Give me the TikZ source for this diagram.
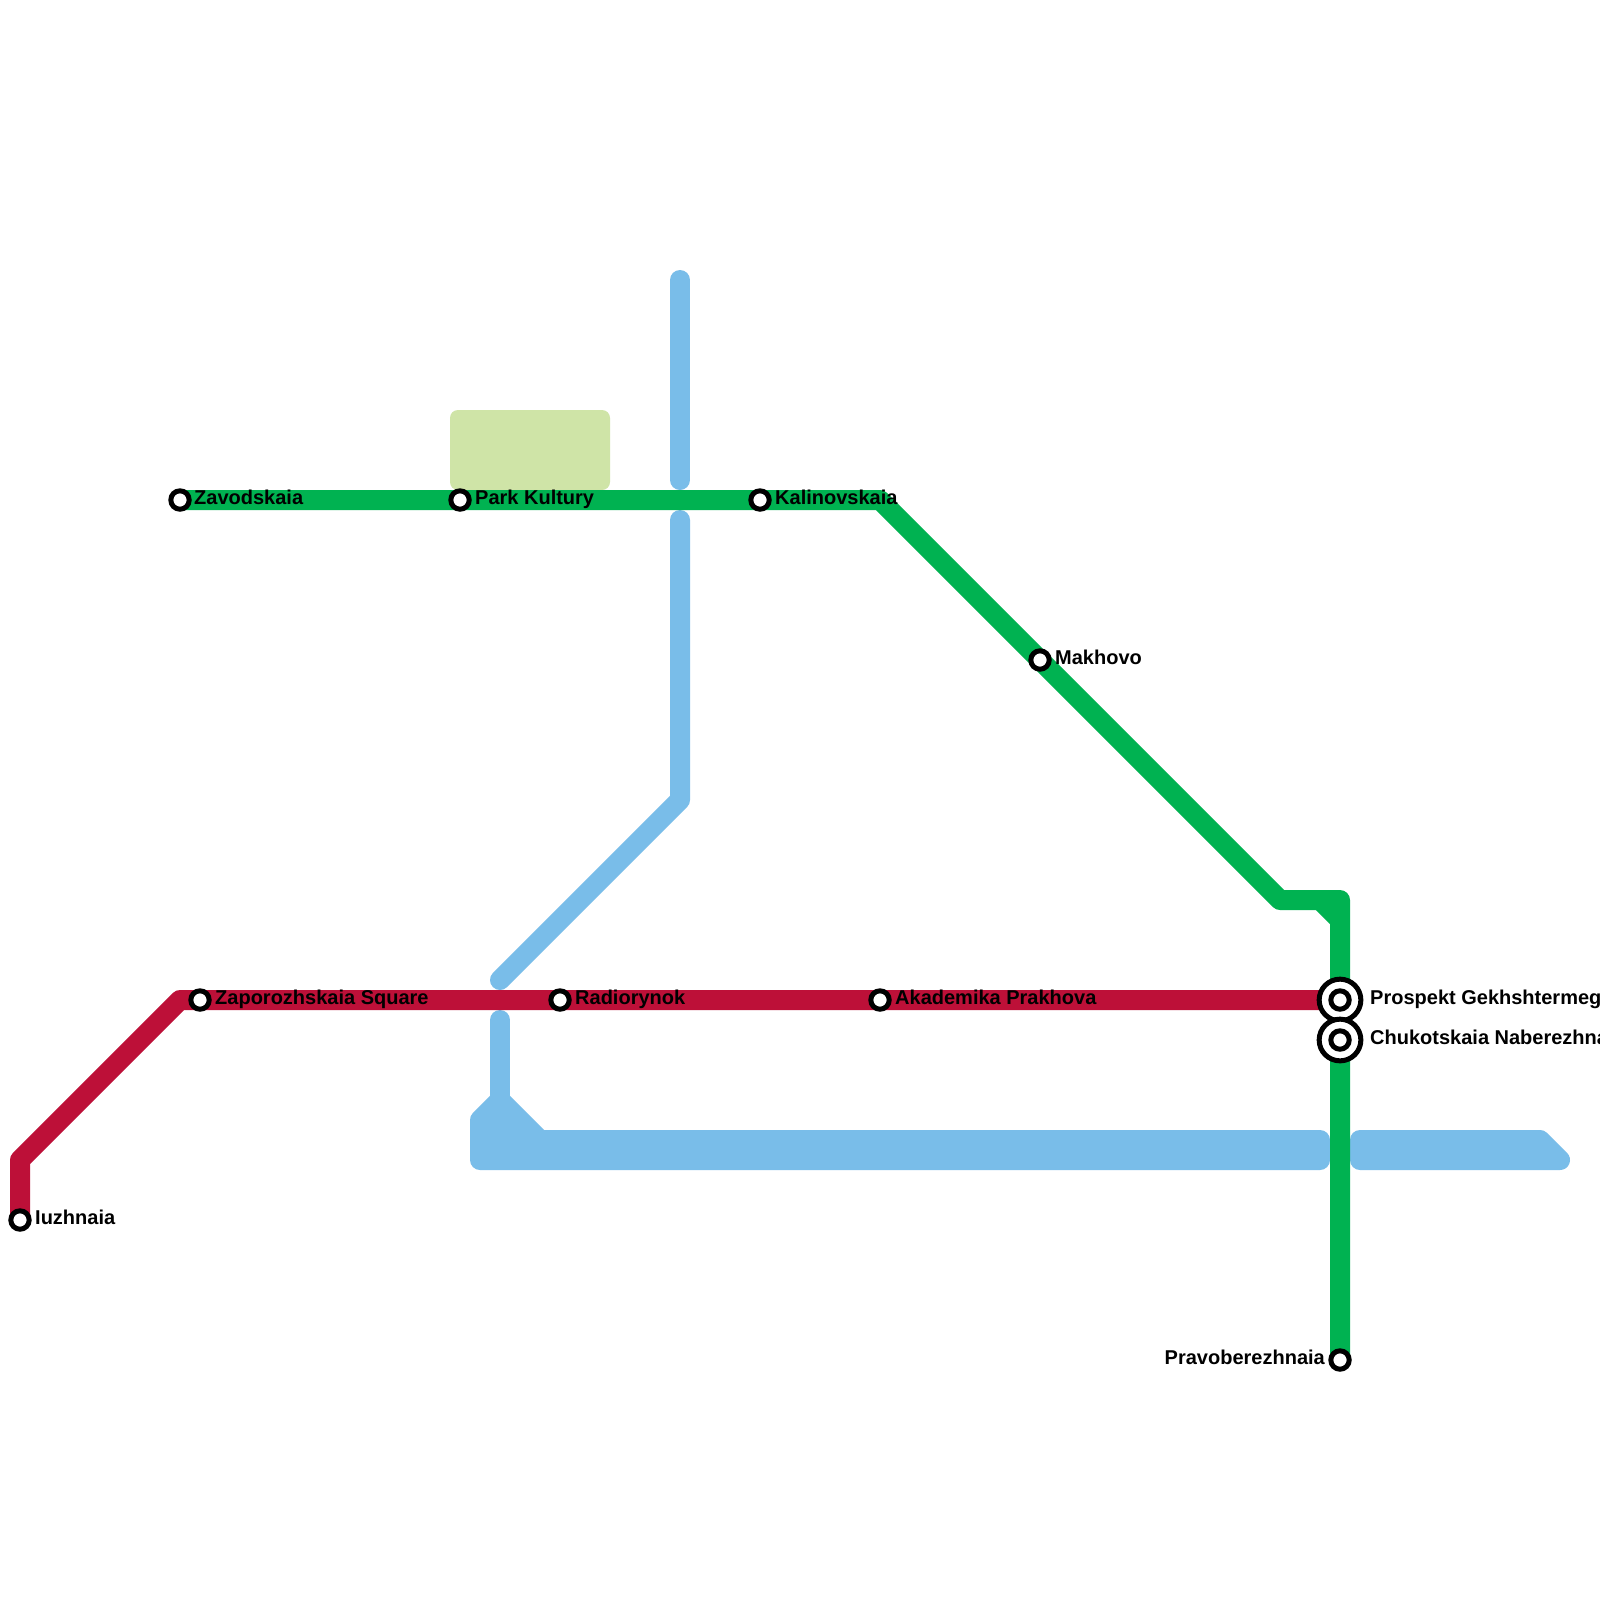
\documentclass[tikz,border=0pt]{standalone}
\usepackage{fontspec}
\setmainfont{Liberation Sans}
\definecolor{lgreen}{HTML}{00B251}
\definecolor{lred}{HTML}{BD1038}
\definecolor{lblue}{HTML}{79BDE9}
\definecolor{park}{HTML}{CFE4A7}
\tikzset{
 metro/.style={line width=20pt,line cap=round,line join=round},
 greenline/.style={metro,draw=lgreen},
 redline/.style={metro,draw=lred},
 blueline/.style={metro,draw=lblue},
 stn/.style={circle,draw=black,fill=white,line width=5pt,minimum size=18.4pt,inner sep=0pt,outer sep=0pt},
 bigstn/.style={circle,draw=black,fill=white,line width=5pt,minimum size=41.7pt,inner sep=0pt,outer sep=0pt},
 lab/.style={font=\bfseries\fontsize{20}{22}\selectfont,inner sep=0pt,text=black},
}
\begin{document}
\begin{tikzpicture}[x=1pt,y=-1pt]
\useasboundingbox (0,0) rectangle (1600,1600);
\clip (0,0) rectangle (1600,1600);
\fill[white] (0,0) rectangle (1600,1600);
\node[fill=park,rounded corners=8pt,minimum width=160pt,minimum height=80pt,inner sep=0pt] (parkarea) at (530,450) {};
% coordinates
\foreach \n/\x/\y in {ba/680/280,bb/680/480,bc/680/520,bd/680/800,be/500/980,bf/500/1020,bg/500/1100,
 bh/480/1120,bi/480/1160,bj/480/1140,bk/540/1140,bl/1320/1140,bm/1320/1160,
 bn/1360/1140,bo/1360/1160,bp/1540/1140,bq/1560/1160,
 ga/880/500,gb/1280/900,gc/1340/900,gd/1320/900,ge/1340/920,
 ra/180/1000,rb/20/1160}
 {\coordinate (\n) at (\x,\y);}
% stations positions
\foreach \n/\x/\y in {Zav/180/500,Par/460/500,Kal/760/500,Mak/1040/660,Pra/1340/1360,Pro/1340/1000,Chu/1340/1040,
 Iuz/20/1220,Zap/200/1000,Rad/560/1000,Aka/880/1000}
 {\coordinate (p\n) at (\x,\y);}
% blue
\draw[blueline] (ba)--(bb);
\draw[blueline] (bc)--(bd)--(be);
\draw[blueline] (bf)--(bg);
\draw[blueline] (bh)--(bg)--(bk)--(bl)--(bm)--(bi)--(bh);
\fill[lblue] (bh)--(bg)--(bk)--(bl)--(bm)--(bi)--cycle;
\draw[blueline] (bn)--(bp)--(bq)--(bo)--cycle;
% red
\draw[redline,line cap=butt] (pIuz)--(rb)--(ra)--(pPro);
% green
\draw[greenline,line cap=butt] (pZav)--(ga)--(gb)--(gc)--(pPra);
\draw[greenline,line cap=butt] (gd)--(ge);
% stations
\node[stn] (Zav) at (pZav) {};
\node[stn] (Par) at (pPar) {};
\node[stn] (Kal) at (pKal) {};
\node[stn] (Mak) at (pMak) {};
\node[stn] (Pra) at (pPra) {};
\node[stn] (Iuz) at (pIuz) {};
\node[stn] (Zap) at (pZap) {};
\node[stn] (Rad) at (pRad) {};
\node[stn] (Aka) at (pAka) {};
\node[bigstn] (ProO) at (pPro) {};
\node[stn] (Pro) at (pPro) {};
\node[bigstn] (ChuO) at (pChu) {};
\node[stn] (Chu) at (pChu) {};
% labels
\node[lab,anchor=base west] (tZav) at (194,504.5) {Zavodskaia};
\node[lab,anchor=base west] (tPar) at (475,504.5) {Park Kultury};
\node[lab,anchor=base west] (tKal) at (775,504.5) {Kalinovskaia};
\node[lab,anchor=base west] (tMak) at (1055,664.5) {Makhovo};
\node[lab,anchor=base east] (tPra) at (1325,1364.5) {Pravoberezhnaia};
\node[lab,anchor=base west] (tIuz) at (35,1224.5) {Iuzhnaia};
\node[lab,anchor=base west] (tZap) at (215,1004.5) {Zaporozhskaia Square};
\node[lab,anchor=base west] (tRad) at (575,1004.5) {Radiorynok};
\node[lab,anchor=base west] (tAka) at (895,1004.5) {Akademika Prakhova};
\node[lab,anchor=base west] (tPro) at (1370,1004.5) {Prospekt Gekhshtermega};
\node[lab,anchor=base west] (tChu) at (1370,1044.5) {Chukotskaia Naberezhnaia};
\end{tikzpicture}
\end{document}
